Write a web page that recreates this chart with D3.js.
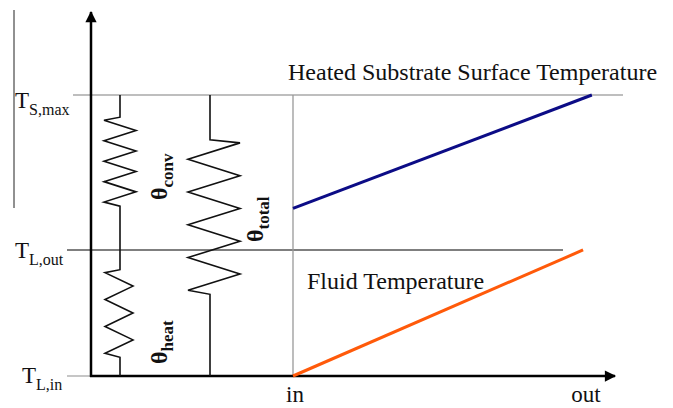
<!DOCTYPE html>
<html>
<head>
<meta charset="utf-8">
<script src="https://cdn.jsdelivr.net/npm/d3@7"></script>
<style>
  body { margin: 0; background: #fff; }
  svg text { font-family: "Liberation Serif", "Times New Roman", serif; fill: #111; }
</style>
</head>
<body>
<div id="chart"></div>
<script>
// position along the channel (0 = in, 1 = out)
var xCats = ['in', 'out'];
var xVals = [0, 1];

// temperature levels (normalised: T_L,in = 0, T_L,out = 1)
var levelNames = [['T', 'S,max'], ['T', 'L,out'], ['T', 'L,in']];
var levelVals = [2.23, 1, 0];

// the two temperature curves
var surfaceX = [0, 1.02];
var surfaceT = [1.33, 2.23];
var fluidX = [0, 0.99];
var fluidT = [0, 1];

// thermal resistances: top, bottom of zigzag and number of zigzag corners
var resNames = ['conv', 'heat', 'total'];
var resTop = [2.03, 0.82, 1.85];
var resBot = [1.38, 0.18, 0.68];
var resCorners = [9, 7, 10];

var width = 673, height = 408;

var svg = d3.select('#chart')
  .append('svg')
  .attr('width', width)
  .attr('height', height);

var x = d3.scaleLinear().domain([0, 1]).range([293, 586]);
var y = d3.scaleLinear().domain([0, 2.23]).range([376, 95]);

// stray line on the left edge
svg.append('line')
  .attr('x1', 14).attr('x2', 14)
  .attr('y1', 10).attr('y2', 208)
  .attr('stroke', '#222').attr('stroke-width', 1);

// level lines
var levelExtent = [[73, 623], [67, 563], [67, 91]];
var levelColor = ['#a8a8a8', '#555', '#a8a8a8'];
svg.append('g')
  .selectAll('line')
  .data(levelVals)
  .enter()
  .append('line')
  .attr('x1', function(d, i){ return levelExtent[i][0]; })
  .attr('x2', function(d, i){ return levelExtent[i][1]; })
  .attr('y1', function(d){ return y(d); })
  .attr('y2', function(d){ return y(d); })
  .attr('stroke', function(d, i){ return levelColor[i]; })
  .attr('stroke-width', 1.3);

// vertical line at the inlet
svg.append('line')
  .attr('x1', x(0)).attr('x2', x(0))
  .attr('y1', y(levelVals[0])).attr('y2', y(0))
  .attr('stroke', '#999').attr('stroke-width', 1.3);

// level labels with subscripts
var labelX = [15, 15, 22];
var lab = svg.append('g')
  .selectAll('text')
  .data(levelVals)
  .enter()
  .append('text')
  .attr('x', function(d, i){ return labelX[i]; })
  .attr('y', function(d, i){ return y(d) + (i == 0 ? 13 : (i == 1 ? 8 : 7)); })
  .style('font-size', '23px');
lab.append('tspan').text(function(d, i){ return levelNames[i][0]; });
lab.append('tspan')
  .attr('dy', 7)
  .style('font-size', '16px')
  .text(function(d, i){ return levelNames[i][1]; });

// axes with arrows
svg.append('defs').append('marker')
  .attr('id', 'arrow')
  .attr('viewBox', '0 0 10 10')
  .attr('refX', 9).attr('refY', 5)
  .attr('markerWidth', 5.5).attr('markerHeight', 4.5)
  .attr('markerUnits', 'strokeWidth')
  .attr('orient', 'auto')
  .append('path')
  .attr('d', 'M0,0 L10,5 L0,10 Z')
  .attr('fill', '#000');

svg.append('line')
  .attr('x1', 91).attr('x2', 91)
  .attr('y1', y(0) + 1).attr('y2', 12)
  .attr('stroke', '#000').attr('stroke-width', 2.5)
  .attr('marker-end', 'url(#arrow)');
svg.append('line')
  .attr('x1', 90).attr('x2', 615)
  .attr('y1', y(0)).attr('y2', y(0))
  .attr('stroke', '#000').attr('stroke-width', 2.5)
  .attr('marker-end', 'url(#arrow)');

// x category labels
svg.append('g')
  .selectAll('text')
  .data(xCats)
  .enter()
  .append('text')
  .attr('x', function(d, i){ return x(xVals[i]) + (i == 0 ? 2 : 0); })
  .attr('y', 402)
  .attr('text-anchor', 'middle')
  .style('font-size', '23px')
  .text(function(d){ return d; });

// temperature lines
var line = d3.line()
  .x(function(d){ return x(d[0]); })
  .y(function(d){ return y(d[1]); });

svg.append('path')
  .datum(d3.zip(surfaceX, surfaceT))
  .attr('d', line)
  .attr('fill', 'none')
  .attr('stroke', '#0c0c86')
  .attr('stroke-width', 3);

svg.append('path')
  .datum(d3.zip(fluidX, fluidT))
  .attr('d', line)
  .attr('fill', 'none')
  .attr('stroke', '#ff5a0a')
  .attr('stroke-width', 3);

svg.append('text')
  .attr('x', 288).attr('y', 80)
  .style('font-size', '24px')
  .text('Heated Substrate Surface Temperature');

svg.append('text')
  .attr('x', 307).attr('y', 289)
  .style('font-size', '24px')
  .text('Fluid Temperature');

// resistors
var resX = [120, 120, 210];
var resLeft = [16, 15, 22];
var resRight = [16, 13, 30];
var resStartRight = [false, false, true];
var resWireTop = [levelVals[0], levelVals[1], levelVals[0]];

function zigzag(i){
  var pts = [[resX[i], y(resWireTop[i])], [resX[i], y(resTop[i]) - 3]];
  var n = resCorners[i];
  var y0 = y(resTop[i]), y1 = y(resBot[i]);
  for(var k = 0; k < n; k++){
    var yy = y0 + (y1 - y0) * k / (n - 1);
    var right = (k % 2 == 0) == resStartRight[i];
    pts.push([right ? resX[i] + resRight[i] : resX[i] - resLeft[i], yy]);
  }
  pts.push([resX[i], y1 + 4]);
  pts.push([resX[i], y(0)]);
  return pts;
}

// the upper left resistor continues down into the lower one
var resPaths = [zigzag(0).slice(0, -1).concat(zigzag(1).slice(1)), zigzag(2)];
svg.append('g')
  .selectAll('path')
  .data(resPaths)
  .enter()
  .append('path')
  .attr('d', d3.line())
  .attr('fill', 'none')
  .attr('stroke', '#111')
  .attr('stroke-width', 1.6)
  .attr('stroke-linejoin', 'miter');

// theta labels, rotated
var thetaPos = [[167, 200], [167, 364], [263, 242]];
var th = svg.append('g')
  .selectAll('text')
  .data(resNames)
  .enter()
  .append('text')
  .attr('transform', function(d, i){ return 'translate(' + thetaPos[i][0] + ',' + thetaPos[i][1] + ') rotate(-90)'; })
  .style('font-size', '24px')
  .style('font-weight', 'bold');
th.append('tspan').text('θ');
th.append('tspan')
  .attr('dy', 6)
  .style('font-size', '17px')
  .text(function(d){ return d; });
</script>
</body>
</html>
